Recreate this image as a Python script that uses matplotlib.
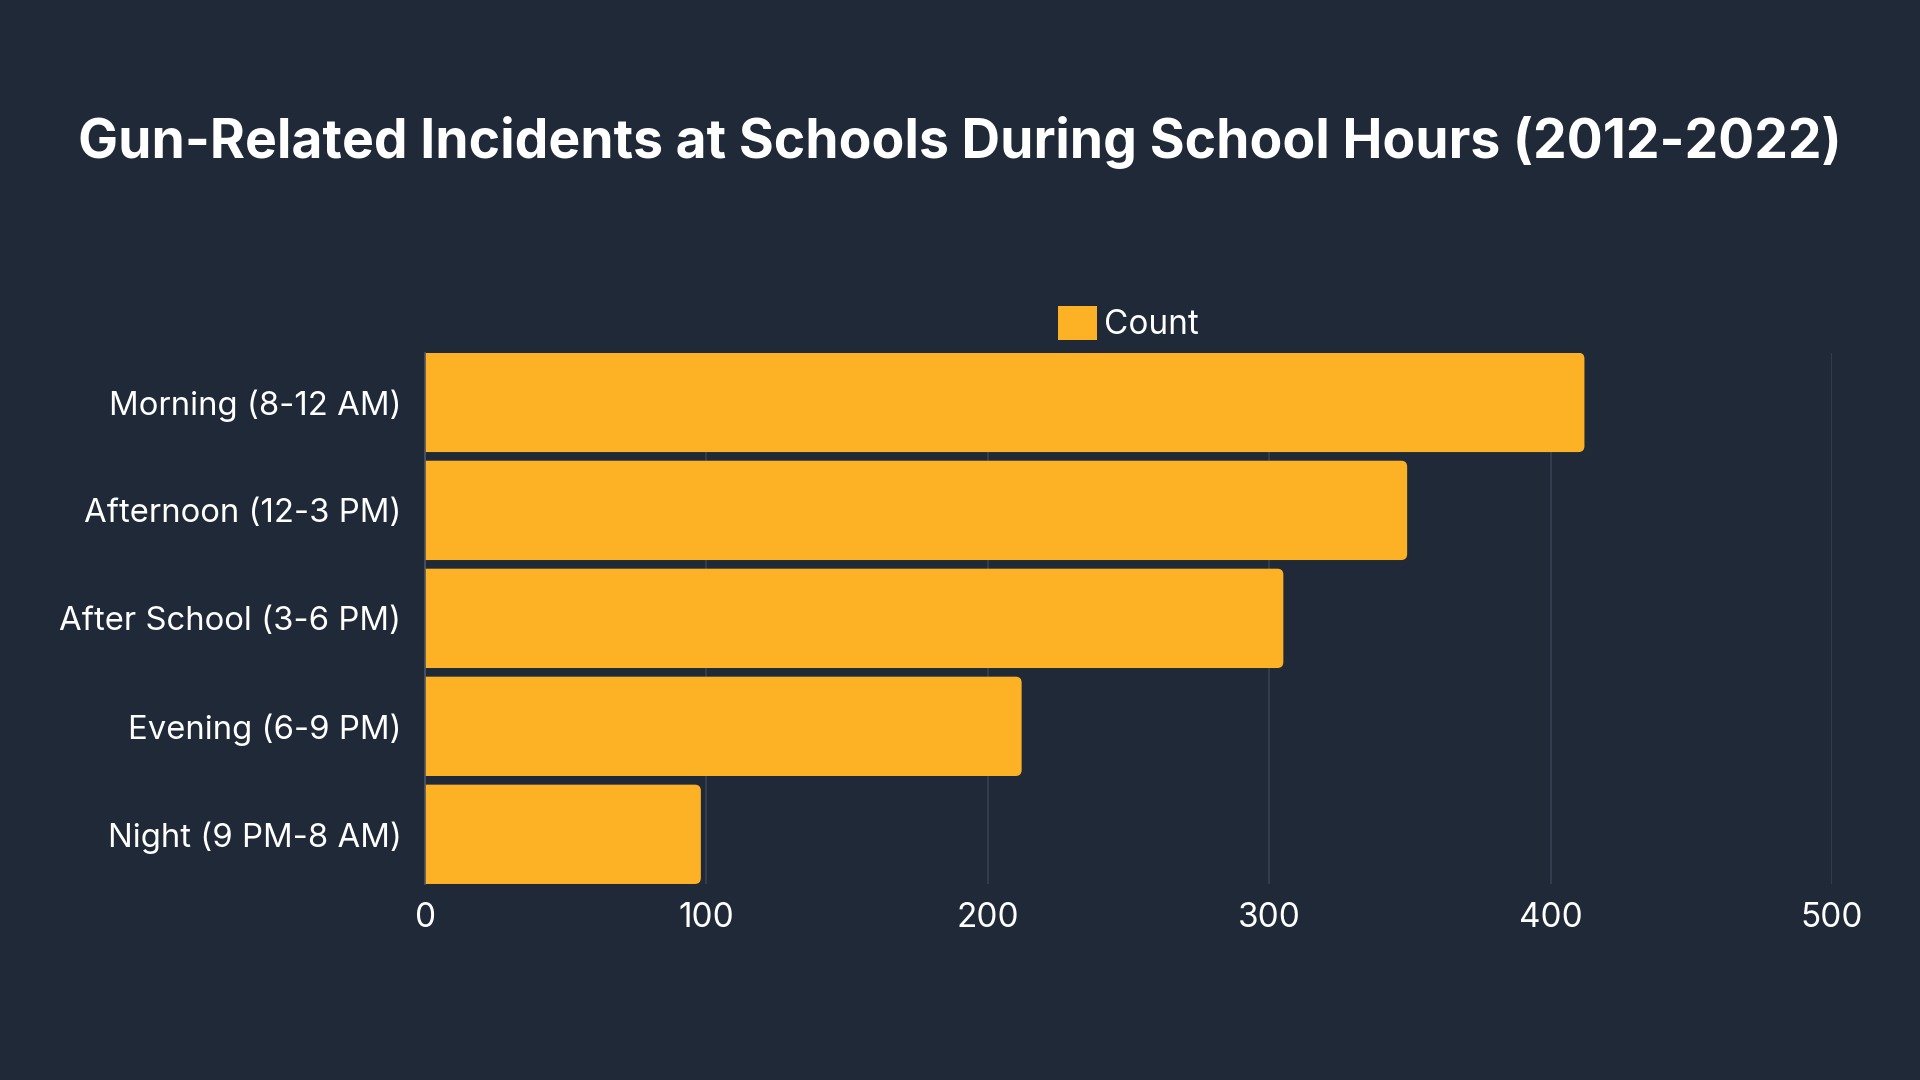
import matplotlib
matplotlib.use("Agg")
import matplotlib.pyplot as plt
from matplotlib.patches import FancyBboxPatch

categories = ["Morning (8-12 AM)", "Afternoon (12-3 PM)", "After School (3-6 PM)",
              "Evening (6-9 PM)", "Night (9 PM-8 AM)"]
counts = [412, 349, 305, 212, 98]
x_ticks = [0, 100, 200, 300, 400, 500]
series_name = "Count"
title = "Gun-Related Incidents at Schools During School Hours (2012-2022)"

bg = "#1f2937"
bar_color = "#fdb124"
grid_color = "#374151"

plt.rcParams['font.family'] = ['Inter', 'DejaVu Sans']

fig = plt.figure(figsize=(19.2, 10.8), dpi=100, facecolor=bg)
ax = fig.add_axes([0.2214, 0.1815, 0.7328, 0.4919], facecolor=bg)

ypos = list(range(len(categories)))
bars = ax.barh(ypos, counts, height=0.92, color=bar_color, label=series_name, zorder=3)

ax.set_ylim(len(categories) - 0.54, -0.46)
ax.set_xlim(0, 500)
ax.set_xticks(x_ticks)
ax.set_yticks(ypos)
ax.set_yticklabels(categories)

ax.tick_params(axis='y', length=0, pad=17, labelsize=23.7, labelcolor='white')
ax.tick_params(axis='x', length=0, pad=13, labelsize=24, labelcolor='white')

ax.grid(axis='x', color=grid_color, linewidth=1.2, zorder=0)
for s in ['top', 'right', 'bottom']:
    ax.spines[s].set_visible(False)
ax.spines['left'].set_color('#4b5563')
ax.spines['left'].set_linewidth(1.2)
ax.spines['left'].set_zorder(4)

fig.text(0.5, 0.868, title, ha='center', va='center', color='white',
         fontsize=38.5, fontweight='bold')

leg = ax.legend(loc='lower center', bbox_to_anchor=(0.5, 0.99), frameon=False,
                fontsize=24, labelcolor='white', handlelength=1.17, handleheight=1.17,
                handletextpad=0.2, borderaxespad=0.1)

# swap the square bars for ones with rounded right ends
# (left end pushed past x=0 so the axes clip hides its rounding)
fig.canvas.draw()
px_x = ax.transData.transform((100, 0))[0] - ax.transData.transform((0, 0))[0]
px_y = abs(ax.transData.transform((0, 1))[1] - ax.transData.transform((0, 0))[1])
r_px = 6.0
r_x = r_px / (px_x / 100)
for rect in list(bars.patches):
    x, y = rect.get_x(), rect.get_y()
    w, h = rect.get_width(), rect.get_height()
    rb = FancyBboxPatch((x - r_x, y), w + r_x, h,
                        boxstyle=f"round,pad=0,rounding_size={r_x}",
                        mutation_aspect=(px_x / 100) / px_y,
                        facecolor=bar_color, edgecolor='none', zorder=3)
    ax.add_patch(rb)
    rect.remove()

fig.savefig("out.png", dpi=100, facecolor=bg)
